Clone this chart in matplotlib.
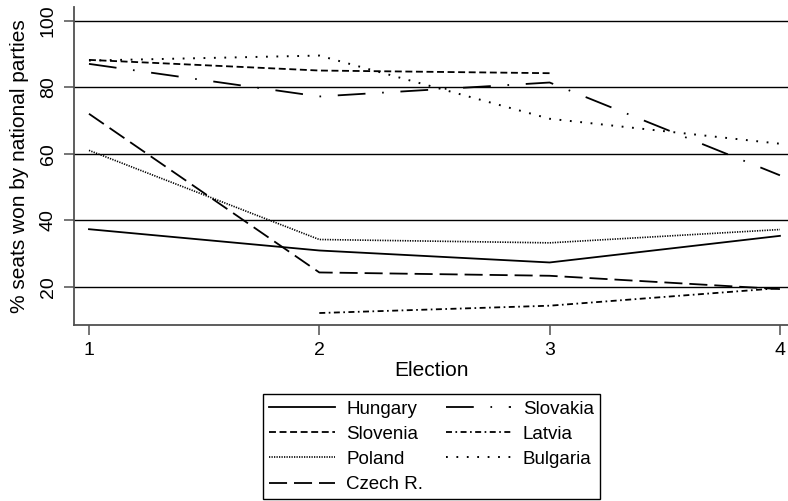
import numpy as np
import matplotlib as mpl
mpl.use('Agg')
import matplotlib.pyplot as plt

plt.rcParams['font.family'] = ['Liberation Sans', 'DejaVu Sans']
plt.rcParams['lines.scale_dashes'] = False

# values (share of seats, %)
elections = [1, 2, 3, 4]
hungary  = [37.3, 30.9, 27.3, 35.3]
slovenia = [88.2, 85.0, 84.2, np.nan]
poland   = [61.0, 34.2, 33.2, 37.2]
czech    = [72.0, 24.3, 23.3, 19.3]
slovakia = [87.0, 77.2, 81.4, 53.5]
latvia   = [np.nan, 12.1, 14.3, 19.6]
bulgaria = [88.0, 89.5, 70.5, 63.0]

series = [
    ('Hungary',  hungary,  (None, None), 1.3),
    ('Slovenia', slovenia, (0, (5, 2.6)), 1.3),
    ('Poland',   poland,   (0, (0.9, 0.9)), 1.2),
    ('Czech R.', czech,    (0, (13, 5)), 1.3),
    ('Slovakia', slovakia, (0, (20, 12, 1.2, 12)), 1.3),
    ('Latvia',   latvia,   (0, (4.3, 2.5, 1.2, 2.5)), 1.3),
    ('Bulgaria', bulgaria, (0, (1.3, 6.2)), 1.4),
]

fig = plt.figure(figsize=(7.88, 5.01), dpi=100)
W, H = 788, 501
ax = fig.add_axes([74 / W, (H - 325) / H, (W - 74) / W, (325 - 7) / H])

for name, vals, ls, lw in series:
    if ls[0] is None:
        ax.plot(elections, vals, color='black', lw=lw, label=name)
    else:
        ax.plot(elections, vals, color='black', lw=lw, linestyle=ls, label=name)

ax.set_xlim(0.935, 4.035)
ax.set_ylim(8.5, 104.1)
ax.set_xticks(elections)
ax.set_yticks([20, 40, 60, 80, 100])
ax.yaxis.grid(True, color='black', lw=1.0)
ax.set_axisbelow(True)
for s in ['top', 'right']:
    ax.spines[s].set_visible(False)
for s in ['left', 'bottom']:
    ax.spines[s].set_color('#505050')
    ax.spines[s].set_linewidth(1.3)
ax.tick_params(axis='both', length=7.5, width=1.1, color='#505050',
               labelsize=14, pad=5)
ax.tick_params(axis='y', labelrotation=90)
for lab in ax.get_yticklabels():
    lab.set_va('center')
ax.set_xlabel('Election', fontsize=15, labelpad=1)
ax.set_ylabel('% seats won by national parties', fontsize=15, labelpad=8)

leg = fig.legend(loc='upper left', bbox_to_anchor=(263 / W, 1 - 394 / H),
                 ncol=2, fontsize=13.5, frameon=True, fancybox=False,
                 edgecolor='black', framealpha=1, borderaxespad=0,
                 handlelength=3.5, handletextpad=0.6, columnspacing=1.2,
                 labelspacing=0.43, borderpad=0.34)
leg.get_frame().set_linewidth(1.0)

fig.savefig('out.png', dpi=100)
